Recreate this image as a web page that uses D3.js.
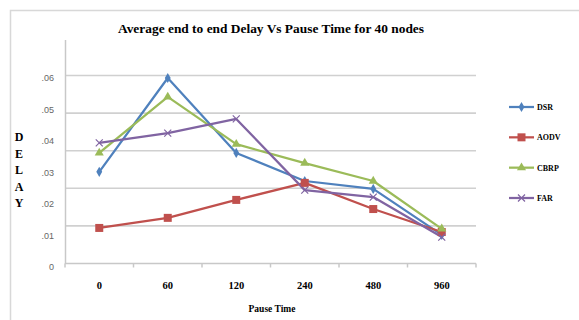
<!DOCTYPE html>
<html>
<head>
<meta charset="utf-8">
<script src="https://cdn.jsdelivr.net/npm/d3@7"></script>
<style>
	body { margin: 0; background: #fff; }
	svg { display: block; }
	.title, .xlab, .axis-title, .ylab-title, .legend-labels { font-family: "Liberation Serif", "DejaVu Serif", serif; font-weight: bold; fill: #000; }
	.ytick { font-family: "Liberation Sans", Arial, sans-serif; fill: #666; font-size: 9px; }
</style>
</head>
<body>
<svg id="chart" width="579" height="320"></svg>
<script>
(function () {
	//DATA
	var pauseTimes = ["0", "60", "120", "240", "480", "960"];
	var dsr = [0.0302, 0.0600, 0.0362, 0.0273, 0.0248, 0.0102];
	var aodv = [0.0124, 0.0156, 0.0213, 0.0267, 0.0184, 0.0111];
	var cbrp = [0.0362, 0.0540, 0.0390, 0.0330, 0.0273, 0.0121];
	var far = [0.0394, 0.0425, 0.0470, 0.0244, 0.0222, 0.0095];
	var yTickValues = [0, 0.01, 0.02, 0.03, 0.04, 0.05, 0.06];
	var yTickLabels = ["0", ".01", ".02", ".03", ".04", ".05", ".06"];
	var gridCount = 6;
	var legend = ["DSR", "AODV", "CBRP", "FAR"];

	var series = [
		{ name: "DSR", values: dsr, color: "#4F81BD", marker: "diamond" },
		{ name: "AODV", values: aodv, color: "#C0504D", marker: "square" },
		{ name: "CBRP", values: cbrp, color: "#9BBB59", marker: "triangle" },
		{ name: "FAR", values: far, color: "#8064A2", marker: "cross" }
	];

	var svg = d3.select("#chart");

	// outer frame
	svg.append("rect")
		.attr("x", 10.5).attr("y", 10.5)
		.attr("width", 620).attr("height", 340)
		.attr("fill", "none").attr("stroke", "#d8d8d8").attr("stroke-width", 1.5);

	var x = d3.scaleBand().domain(pauseTimes).range([65, 476]);
	var y = d3.scaleLinear().domain([0, 0.06]).range([267, 78]);
	var yGrid = d3.scaleLinear().domain([0, gridCount - 1]).range([263.5, 75.5]);

	// gridlines
	svg.append("g").selectAll("line")
		.data(d3.range(1, gridCount)).enter().append("line")
		.attr("x1", 65).attr("x2", 476)
		.attr("y1", function (d) { return yGrid(d) })
		.attr("y2", function (d) { return yGrid(d) })
		.attr("stroke", "#d0d0d0").attr("stroke-width", 1.6);

	// y axis line
	svg.append("line")
		.attr("x1", 65.5).attr("x2", 65.5).attr("y1", 40).attr("y2", 264)
		.attr("stroke", "#c8c8c8").attr("stroke-width", 1.5);

	// x axis
	var xAxis = svg.append("g").attr("transform", "translate(0,263.5)");
	xAxis.append("line")
		.attr("x1", 65).attr("x2", 476)
		.attr("stroke", "#c8c8c8").attr("stroke-width", 1.5);
	xAxis.selectAll(".tickmark")
		.data(d3.range(pauseTimes.length + 1)).enter().append("line")
		.attr("class", "tickmark")
		.attr("x1", function (d) { return 65 + d * x.step() })
		.attr("x2", function (d) { return 65 + d * x.step() })
		.attr("y1", 0).attr("y2", 4)
		.attr("stroke", "#c8c8c8").attr("stroke-width", 1.5);

	// y tick labels
	svg.selectAll(".ytick")
		.data(yTickValues).enter().append("text")
		.attr("class", "ytick")
		.attr("x", 54)
		.attr("y", function (d) { return y(d) + 3 })
		.attr("text-anchor", "end")
		.text(function (d, i) { return yTickLabels[i] });

	// x tick labels
	svg.selectAll(".xlab")
		.data(pauseTimes).enter().append("text")
		.attr("class", "xlab")
		.attr("x", function (d) { return x(d) + x.bandwidth() / 2 })
		.attr("y", 289)
		.attr("text-anchor", "middle")
		.style("font-size", "10.5px")
		.text(function (d) { return d });

	// titles
	svg.append("text").attr("class", "title")
		.attr("x", 271).attr("y", 33)
		.attr("text-anchor", "middle")
		.attr("textLength", 306)
		.attr("lengthAdjust", "spacingAndGlyphs")
		.style("font-size", "12.5px")
		.text("Average end to  end Delay Vs Pause Time for 40 nodes");

	svg.append("text").attr("class", "axis-title")
		.attr("x", 272).attr("y", 312)
		.attr("text-anchor", "middle")
		.style("font-size", "9.5px")
		.text("Pause Time");

	svg.selectAll(".ylab-title")
		.data("DELAY".split("")).enter().append("text")
		.attr("class", "ylab-title")
		.attr("x", 19)
		.attr("y", function (d, i) { return 141 + i * 16.5 })
		.attr("text-anchor", "middle")
		.style("font-size", "12px")
		.text(function (d) { return d });

	// lines
	var line = d3.line()
		.x(function (d, i) { return x(pauseTimes[i]) + x.bandwidth() / 2 })
		.y(function (d) { return y(d) });

	svg.append("g").selectAll("path")
		.data(series).enter().append("path")
		.attr("d", function (d) { return line(d.values) })
		.attr("fill", "none")
		.attr("stroke", function (d) { return d.color })
		.attr("stroke-width", 2.25)
		.attr("stroke-linejoin", "round");

	function drawMarker(g, type, color, cx, cy) {
		if (type === "diamond") {
			g.append("path").attr("d", d3.symbol().type(d3.symbolDiamond).size(30)())
				.attr("transform", "translate(" + cx + "," + cy + ")").attr("fill", color);
		} else if (type === "square") {
			g.append("rect").attr("x", cx - 4).attr("y", cy - 4).attr("width", 8).attr("height", 8).attr("fill", color);
		} else if (type === "triangle") {
			g.append("path").attr("d", d3.symbol().type(d3.symbolTriangle).size(36)())
				.attr("transform", "translate(" + cx + "," + cy + ")").attr("fill", color);
		} else {
			g.append("path").attr("d", "M-3.5,-3.5L3.5,3.5M-3.5,3.5L3.5,-3.5")
				.attr("transform", "translate(" + cx + "," + cy + ")")
				.attr("stroke", color).attr("stroke-width", 1.2).attr("fill", "none");
		}
	}

	series.forEach(function (s) {
		var g = svg.append("g");
		s.values.forEach(function (v, i) {
			drawMarker(g, s.marker, s.color, x(pauseTimes[i]) + x.bandwidth() / 2, y(v));
		});
	});

	// legend
	var legendY = d3.scalePoint().domain(legend).range([107, 198]);
	legend.forEach(function (name, i) {
		var s = series[i];
		var g = svg.append("g").attr("class", "legend");
		g.append("line")
			.attr("x1", 509).attr("x2", 534)
			.attr("y1", legendY(name)).attr("y2", legendY(name))
			.attr("stroke", s.color).attr("stroke-width", 2.25);
		drawMarker(g, s.marker, s.color, 521.5, legendY(name));
		g.append("text").attr("class", "legend-labels")
			.attr("x", 537).attr("y", legendY(name) + 3)
			.style("font-size", "8px")
			.text(name);
	});
})();
</script>
</body>
</html>
